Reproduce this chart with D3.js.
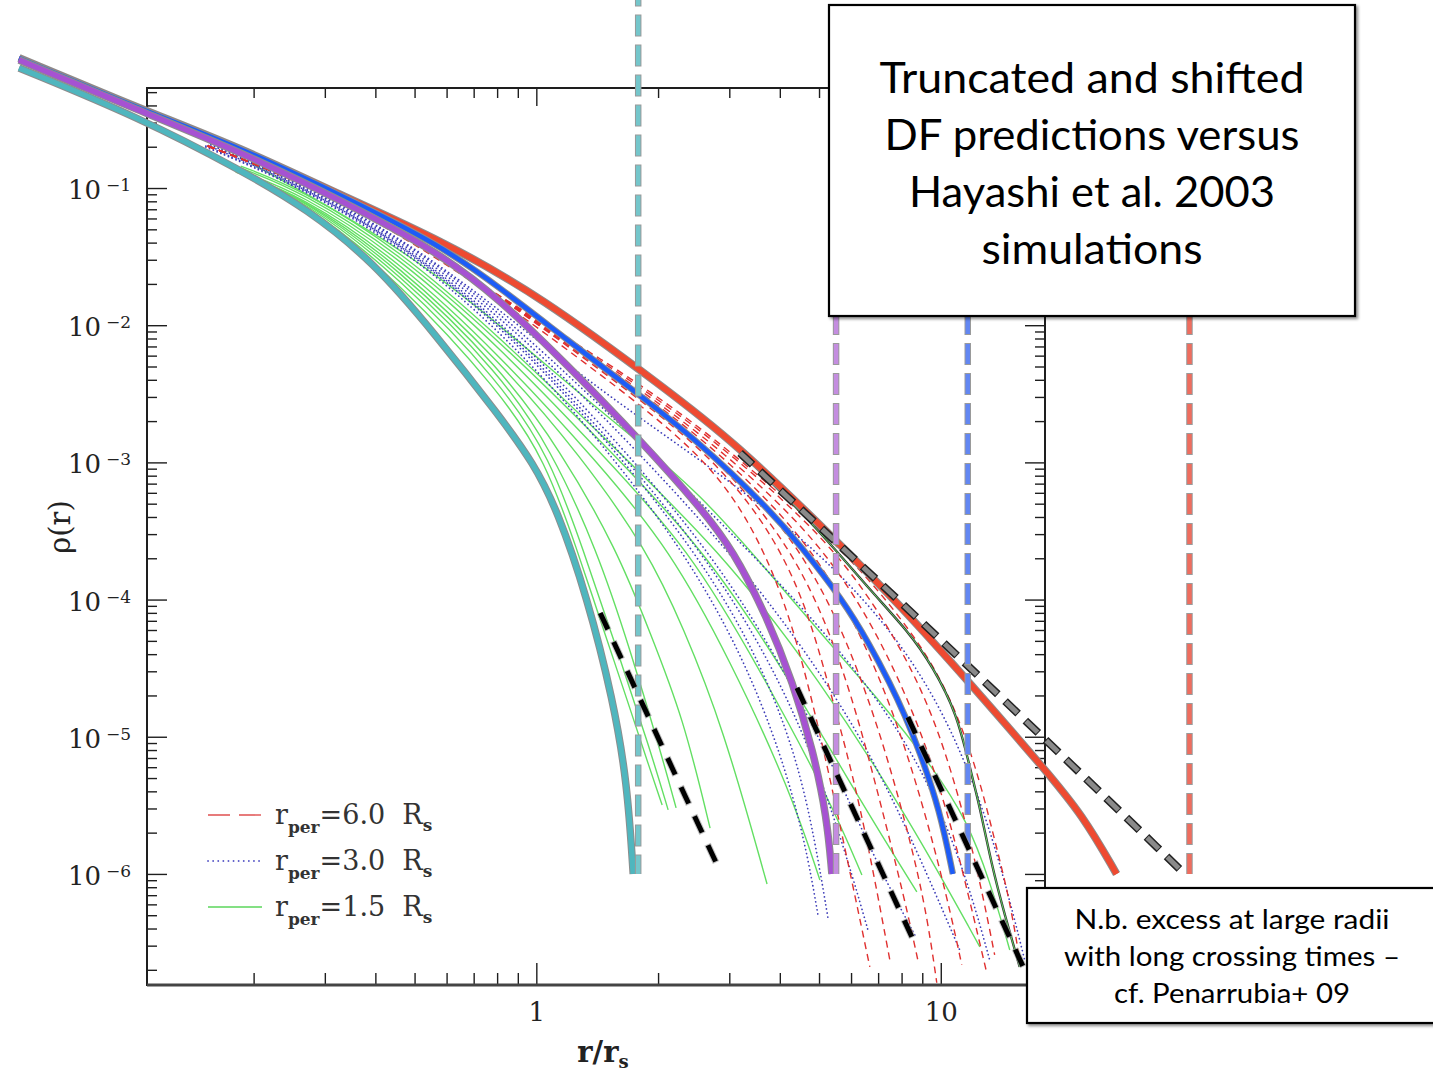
<!DOCTYPE html>
<html>
<head>
<meta charset="utf-8">
<script src="https://cdn.jsdelivr.net/npm/d3@7"></script>
<style>
  body { margin: 0; background: #fff; }
  svg { display: block; }
</style>
</head>
<body>
<svg id="chart" width="1433" height="1072"></svg>
<script>
// ---------- axis ranges ----------
const rRange = [0.109, 18.1];          // r / r_s shown inside the frame
const rhoRange = [1.55e-7, 0.536];     // rho(r) shown inside the frame
const xMajorTicks = [1, 10];
const xMinorTicks = [0.2, 0.3, 0.4, 0.5, 0.6, 0.7, 0.8, 0.9, 2, 3, 4, 5, 6, 7, 8, 9];
const yMajorTicks = [1e-1, 1e-2, 1e-3, 1e-4, 1e-5, 1e-6];
const yMajorExp = ["−1", "−2", "−3", "−4", "−5", "−6"];

// ---------- truncated & shifted DF predictions (r/r_s, rho) ----------
const dfCyan = [[0.0526,0.750],[0.105,0.324],[0.186,0.135],[0.272,0.0700],[0.396,0.0289],[0.557,0.00891],
  [0.815,0.00214],[0.983,9.9e-4],[1.127,4.5e-4],[1.336,1.04e-4],[1.549,1.85e-5],[1.678,4.6e-6],[1.736,1.0e-6]];
const dfPurple = [[0.0526,0.857],[0.105,0.364],[0.186,0.183],[0.328,0.0818],[0.579,0.0336],[0.815,0.01528],
  [1.193,0.00513],[1.806,0.001455],[2.541,4.73e-4],[3.065,2.30e-4],[3.719,7.46e-5],[4.312,2.47e-5],
  [4.83,8.0e-6],[5.23,2.60e-6],[5.38,1.0e-6]];
const dfBlue = [[0.0526,0.886],[0.105,0.377],[0.186,0.196],[0.328,0.0889],[0.579,0.0385],[0.815,0.01866],
  [1.193,0.0078],[1.736,0.00337],[2.541,0.001384],[3.719,4.73e-4],[4.486,2.50e-4],[5.73,9.93e-5],
  [6.677,4.67e-5],[7.482,2.47e-5],[8.15,1.44e-5],[8.875,7.75e-6],[9.943,2.93e-6],[10.71,1.0e-6]];
const dfRed = [[0.0526,0.886],[0.105,0.377],[0.186,0.196],[0.328,0.0889],[0.579,0.0418],[1.023,0.01633],
  [2.106,0.00337],[3.065,0.001432],[5.41,2.86e-4],[7.92,9.14e-5],[11.79,2.47e-5],[17.86,6.03e-6],
  [22.42,2.69e-6],[27.2,1.0e-6]];
// untruncated reference profile
const nfwRef = [[3.19,1.17e-3],[3.719,7.69e-4],[7.92,9.77e-5],[17.86,1.0e-5],[38.9,1.09e-6]];
// truncation radii of the four predictions and the density where each marker starts
const truncRadii = [1.786, 5.51, 11.66, 41.2];
const truncTop = [3.0, 0.02, 0.02, 0.02];
const truncBottom = 1.0e-6;
const truncColors = ["#74c6cb", "#c48de0", "#6287f2", "#ef6d5e"];
// power-law tails
const tailSlopes = [
  [[1.439,7.98e-5],[2.82,1.11e-6]],
  [[4.41,2.27e-5],[8.62,3.14e-7]],
  [[8.29,1.39e-5],[16.03,2.07e-7]]
];

// ---------- N-body profiles (Hayashi et al. 2003) ----------
const simRper15 = [
  [[0.1967,0.1163],[0.2615,0.0804],[0.4614,0.0203],[0.815,0.00326],[1.052,0.00104],[1.262,2.30e-4],[1.439,7.10e-5],[1.678,1.85e-5],[1.912,5.73e-6],[2.047,3.18e-6]],
  [[0.1967,0.1183],[0.2615,0.0818],[0.4614,0.0221],[0.815,0.00385],[1.083,0.00108],[1.306,2.30e-4],[1.585,4.29e-5],[1.912,8.01e-6],[2.118,2.93e-6]],
  [[0.1912,0.1223],[0.2615,0.0846],[0.4614,0.0236],[0.815,0.00441],[1.083,0.00127],[1.414,2.30e-4],[1.707,4.29e-5],[2.024,8.01e-6],[2.216,3.03e-6]],
  [[0.1912,0.1244],[0.2615,0.0860],[0.4614,0.0253],[0.815,0.00488],[1.146,0.00123],[1.585,2.30e-4],[1.912,5.71e-5],[2.307,1.39e-5],[2.689,2.16e-6]],
  [[0.1858,0.1265],[0.2615,0.0874],[0.4614,0.0270],[0.815,0.00539],[1.284,0.00113],[1.879,2.30e-4],[2.307,6.31e-5],[2.895,1.18e-5],[3.719,8.45e-7]],
  [[0.1806,0.1308],[0.2615,0.0889],[0.4614,0.0289],[0.815,0.00597],[1.439,9.57e-4],[2.142,2.30e-4],[3.013,3.63e-5],[4.240,4.09e-6],[5.025,9.04e-7]],
  [[0.1806,0.1353],[0.2615,0.0920],[0.4614,0.0309],[0.815,0.00682],[1.439,0.00119],[2.400,2.30e-4],[3.573,3.07e-5],[5.320,3.46e-6],[6.382,9.83e-7]],
  [[0.1858,0.1399],[0.2615,0.0951],[0.4614,0.0330],[0.815,0.00754],[1.439,0.00146],[2.614,2.30e-4],[4.240,2.59e-5],[6.310,3.46e-6],[8.726,7.39e-7]],
  [[0.1858,0.1446],[0.2615,0.0983],[0.4614,0.0353],[0.815,0.00807],[1.439,0.00161],[2.847,2.30e-4],[5.025,2.59e-5],[8.384,2.47e-6],[12.49,2.94e-7]],
  [[0.1967,0.1521],[0.4614,0.0378],[0.815,0.01003],[1.439,0.00233],[2.541,6.29e-4],[4.486,8.40e-5],[7.068,1.85e-5],[9.66,5.73e-6],[11.59,2.47e-6],[13.21,9.04e-7],[14.81,2.79e-7]]
];
// earliest snapshot, drawn with a dark edge
const simRper15Early = [[3.190,0.00119],[4.83,3.62e-4],[6.566,1.24e-4],[8.384,5.71e-5],[9.555,3.23e-5],
  [10.95,1.49e-5],[11.79,6.03e-6],[12.49,3.08e-6],[13.36,1.16e-6],[14.39,5.02e-7],[15.67,2.10e-7]];
const simRper30 = [
  [[0.1523,0.1990],[0.2615,0.1017],[0.4614,0.0378],[0.815,0.00923],[1.439,0.00146],[2.307,2.30e-4],[3.190,4.29e-5],[4.005,8.01e-6],[4.615,1.77e-6],[4.970,5.02e-7]],
  [[0.1523,0.2024],[0.2615,0.1034],[0.4614,0.0391],[0.815,0.01003],[1.439,0.00167],[2.470,2.30e-4],[3.473,4.29e-5],[4.362,8.01e-6],[4.886,1.77e-6],[5.260,4.78e-7]],
  [[0.1545,0.2040],[0.2615,0.1043],[0.4614,0.0397],[0.815,0.01047],[1.439,0.00178],[2.570,2.30e-4],[3.783,3.63e-5],[4.886,6.78e-6],[5.894,1.26e-6],[6.604,3.91e-7]],
  [[0.1567,0.2058],[0.2615,0.1052],[0.4614,0.0404],[0.815,0.01091],[1.439,0.00197],[2.689,2.30e-4],[4.120,3.07e-5],[5.632,4.84e-6],[7.068,1.07e-6],[8.627,3.59e-7]],
  [[0.1567,0.2093],[0.2615,0.1070],[0.4614,0.0418],[0.815,0.01167],[1.439,0.00233],[3.013,2.30e-4],[5.025,3.07e-5],[7.068,5.73e-6],[9.394,9.04e-7],[11.14,2.79e-7]],
  [[0.1612,0.2093],[0.2615,0.1088],[0.4614,0.0432],[0.815,0.01248],[1.439,0.00262],[3.376,2.30e-4],[5.962,3.63e-5],[8.875,6.78e-6],[11.46,1.07e-6],[13.21,2.36e-7]],
  [[0.1612,0.2093],[0.2615,0.1088],[0.4614,0.0440],[0.815,0.01300],[1.439,0.00326],[3.573,5.32e-4],[6.677,9.93e-5],[9.943,1.85e-5],[12.84,2.93e-6],[14.81,6.46e-7],[16.12,2.36e-7]]
];
const simRper60 = [
  [[0.1540,0.2024],[0.2615,0.1106],[0.4614,0.0462],[0.815,0.01527],[1.439,0.00441],[2.541,0.00119],[3.376,3.80e-4],[4.120,9.93e-5],[4.750,2.19e-5],[5.473,3.46e-6],[6.677,2.10e-7]],
  [[0.1540,0.2024],[0.2615,0.1124],[0.4614,0.0478],[0.815,0.01605],[1.439,0.00472],[2.541,0.00134],[3.676,3.80e-4],[4.615,9.93e-5],[5.320,2.19e-5],[6.310,3.46e-6],[7.482,2.36e-7]],
  [[0.1540,0.2024],[0.2615,0.1124],[0.4614,0.0478],[0.815,0.01605],[1.439,0.00488],[2.541,0.001408],[3.826,3.80e-4],[4.970,9.93e-5],[6.03,2.02e-5],[7.068,3.46e-6],[8.15,6.46e-7],[8.775,2.36e-7]],
  [[0.1540,0.2024],[0.2615,0.1124],[0.4614,0.0478],[0.815,0.01605],[1.439,0.00504],[2.541,0.00151],[4.005,3.80e-4],[5.320,9.93e-5],[6.677,1.85e-5],[7.920,3.46e-6],[9.13,6.46e-7],[9.774,1.61e-7]],
  [[0.1540,0.2024],[0.2615,0.1124],[0.4614,0.0478],[0.815,0.01605],[1.439,0.00521],[2.541,0.001584],[4.240,3.80e-4],[5.794,9.93e-5],[7.482,1.85e-5],[8.977,3.46e-6],[10.41,6.46e-7],[11.27,2.17e-7]],
  [[0.1540,0.2024],[0.2615,0.1124],[0.4614,0.0478],[0.815,0.01605],[1.439,0.00539],[2.541,0.00167],[4.486,3.80e-4],[6.310,9.93e-5],[8.384,1.85e-5],[10.23,3.46e-6],[11.79,6.46e-7],[12.99,1.90e-7]],
  [[0.1540,0.2024],[0.2615,0.1124],[0.4614,0.0478],[0.815,0.01605],[1.439,0.00558],[2.541,0.00178],[4.750,3.68e-4],[6.677,1.08e-4],[9.13,2.19e-5],[11.01,4.09e-6],[12.49,9.04e-7],[13.59,2.57e-7]],
  [[0.1540,0.2024],[0.2615,0.1124],[0.4614,0.0478],[0.815,0.01605],[1.439,0.00577],[2.541,0.00187],[5.025,3.33e-4],[7.068,1.17e-4],[9.943,3.07e-5],[12.13,6.78e-6],[13.59,1.77e-6],[14.81,6.46e-7],[15.67,2.36e-7]]
];

const legendLabels = ["6.0", "3.0", "1.5"];
const titleLines = ["Truncated and shifted", "DF predictions versus", "Hayashi et al. 2003", "simulations"];
const noteLines = ["N.b. excess at large radii", "with long crossing times –", "cf. Penarrubia+ 09"];

// ---------- layout ----------
const W = 1433, H = 1072;
const frame = { left: 147, right: 1045, top: 88, bottom: 985 };
const serif = "'DejaVu Serif', serif";

const svg = d3.select("#chart");
svg.append("rect").attr("width", W).attr("height", H).attr("fill", "#fff");

const x = d3.scaleLog().domain(rRange).range([frame.left, frame.right]);
const y = d3.scaleLog().domain(rhoRange).range([frame.bottom, frame.top]);
const line = d3.line().x(d => x(d[0])).y(d => y(d[1])).curve(d3.curveBasis);
const straight = d3.line().x(d => x(d[0])).y(d => y(d[1]));

const defs = svg.append("defs");
defs.append("clipPath").attr("id", "plotClip").append("rect")
  .attr("x", frame.left).attr("y", frame.top)
  .attr("width", frame.right - frame.left).attr("height", frame.bottom - frame.top);
const shadow = defs.append("filter").attr("id", "boxShadow")
  .attr("x", "-5%").attr("y", "-5%").attr("width", "115%").attr("height", "115%");
shadow.append("feDropShadow").attr("dx", 2).attr("dy", 2).attr("stdDeviation", 1.6)
  .attr("flood-color", "#000").attr("flood-opacity", 0.45);

// ---------- axes ----------
const axisColor = "#1e1e1e";
function yMinorTicks() {
  const out = [];
  for (let e = -7; e <= -1; e++) for (let m = 2; m <= 9; m++) {
    const v = m * Math.pow(10, e);
    if (v > rhoRange[0] && v < rhoRange[1]) out.push(v);
  }
  return out;
}
const yMinor = yMinorTicks();
const axes = svg.append("g").attr("color", axisColor);
function strip(g) { g.select(".domain").remove(); g.selectAll("line").attr("stroke-width", 1.4); }

axes.append("g").attr("transform", `translate(0,${frame.bottom})`)
  .call(d3.axisBottom(x).tickValues(xMinorTicks).tickSize(-12).tickFormat("")).call(strip);
axes.append("g").attr("transform", `translate(0,${frame.bottom})`)
  .call(d3.axisBottom(x).tickValues(xMajorTicks).tickSize(-22).tickPadding(18).tickFormat(d3.format("d")))
  .call(strip)
  .call(g => g.selectAll("text").attr("font-family", serif).attr("font-size", 26).attr("fill", "#222"));
axes.append("g").attr("transform", `translate(0,${frame.top})`)
  .call(d3.axisTop(x).tickValues(xMinorTicks).tickSize(-10).tickFormat("")).call(strip);
axes.append("g").attr("transform", `translate(0,${frame.top})`)
  .call(d3.axisTop(x).tickValues(xMajorTicks).tickSize(-18).tickFormat("")).call(strip);
axes.append("g").attr("transform", `translate(${frame.left},0)`)
  .call(d3.axisLeft(y).tickValues(yMinor).tickSize(-10).tickFormat("")).call(strip);
axes.append("g").attr("transform", `translate(${frame.left},0)`)
  .call(d3.axisLeft(y).tickValues(yMajorTicks).tickSize(-20).tickFormat("")).call(strip);
axes.append("g").attr("transform", `translate(${frame.right},0)`)
  .call(d3.axisRight(y).tickValues(yMinor).tickSize(-10).tickFormat("")).call(strip);
axes.append("g").attr("transform", `translate(${frame.right},0)`)
  .call(d3.axisRight(y).tickValues(yMajorTicks).tickSize(-20).tickFormat("")).call(strip);

svg.append("rect")
  .attr("x", frame.left).attr("y", frame.top)
  .attr("width", frame.right - frame.left).attr("height", frame.bottom - frame.top)
  .attr("fill", "none").attr("stroke", axisColor).attr("stroke-width", 2);
svg.append("line")
  .attr("x1", frame.left).attr("x2", frame.right)
  .attr("y1", frame.bottom).attr("y2", frame.bottom)
  .attr("stroke", "#444").attr("stroke-width", 3);

// y tick labels 10^n
const yLabels = svg.append("g").attr("font-family", serif).attr("fill", "#222");
yMajorTicks.forEach((v, i) => {
  const t = yLabels.append("text").attr("x", 68).attr("y", y(v) + 11).attr("font-size", 26);
  t.append("tspan").text("10");
  t.append("tspan").attr("dx", 5).attr("dy", -8).attr("font-size", 17).text(yMajorExp[i]);
});

// axis titles
const xt = svg.append("text").attr("x", 603).attr("y", 1062).attr("text-anchor", "middle")
  .attr("font-family", serif).attr("font-size", 29).attr("font-weight", "bold").attr("fill", "#222");
xt.append("tspan").text("r/r");
xt.append("tspan").attr("dy", 6).attr("font-size", 18).text("s");
svg.append("text").attr("transform", "translate(70,527) rotate(-90)").attr("text-anchor", "middle")
  .attr("font-family", serif).attr("font-size", 29).attr("fill", "#222").text("ρ(r)");

// ---------- simulation profiles ----------
const sims = svg.append("g").attr("clip-path", "url(#plotClip)").attr("fill", "none");
sims.selectAll("path.g15").data(simRper15).join("path").attr("class", "g15")
  .attr("d", line).attr("stroke", "#63df63").attr("stroke-width", 1.4);
sims.selectAll("path.d30").data(simRper30).join("path").attr("class", "d30")
  .attr("d", line).attr("stroke", "#3d3db8").attr("stroke-width", 1.7)
  .attr("stroke-dasharray", "0.1 4").attr("stroke-linecap", "round");
sims.selectAll("path.r60").data(simRper60).join("path").attr("class", "r60")
  .attr("d", line).attr("stroke", "#e0302f").attr("stroke-width", 1.4)
  .attr("stroke-dasharray", "7 5");
sims.append("path").attr("d", line(simRper15Early)).attr("stroke", "#333").attr("stroke-width", 2.4);
sims.append("path").attr("d", line(simRper15Early)).attr("stroke", "#5fd35f").attr("stroke-width", 1);

// ---------- DF predictions ----------
function thick(data, color, w) {
  svg.append("path").attr("d", line(data)).attr("fill", "none")
    .attr("stroke", "#8d8d8d").attr("stroke-width", w + 2);
  svg.append("path").attr("d", line(data)).attr("fill", "none")
    .attr("stroke", color).attr("stroke-width", w);
}
thick(dfRed, "#ee4a31", 6);
// reference profile, grey dashes with dark edge
svg.append("path").attr("d", line(nfwRef)).attr("fill", "none")
  .attr("stroke", "#222").attr("stroke-width", 8)
  .attr("stroke-dasharray", "18 10").attr("stroke-dashoffset", 1);
svg.append("path").attr("d", line(nfwRef)).attr("fill", "none")
  .attr("stroke", "#8a8a8a").attr("stroke-width", 5)
  .attr("stroke-dasharray", "16 12");
thick(dfBlue, "#1d5cf7", 4.5);
thick(dfPurple, "#a652d2", 5.5);
thick(dfCyan, "#4fb6be", 5.5);

// truncation radii
truncRadii.forEach((r, i) => {
  const d = straight([[r, truncTop[i]], [r, truncBottom]]);
  svg.append("path").attr("d", d).attr("stroke", "#9a9a9a").attr("stroke-width", 6.5)
    .attr("stroke-dasharray", "22 8").attr("stroke-dashoffset", 1);
  svg.append("path").attr("d", d).attr("stroke", truncColors[i]).attr("stroke-width", 4.5)
    .attr("stroke-dasharray", "20 10");
});

// power-law tails
tailSlopes.forEach(seg => {
  const d = straight(seg);
  svg.append("path").attr("d", d).attr("stroke", "#999").attr("stroke-width", 7)
    .attr("stroke-opacity", 0.6).attr("stroke-dasharray", "20 12").attr("stroke-dashoffset", 1);
  svg.append("path").attr("d", d).attr("stroke", "#000").attr("stroke-width", 5)
    .attr("stroke-dasharray", "18 14");
});

// ---------- legend ----------
const legend = svg.append("g");
const legendY = [815, 861, 907];
const legendStyles = [
  { stroke: "#e05050", dash: "22 9", w: 1.4, cap: "butt" },
  { stroke: "#5c5cc8", dash: "0.1 5", w: 1.8, cap: "round" },
  { stroke: "#5bd65b", dash: null, w: 1.6, cap: "butt" }
];
legendLabels.forEach((lab, i) => {
  const s = legendStyles[i];
  legend.append("line").attr("x1", 208).attr("x2", 262).attr("y1", legendY[i]).attr("y2", legendY[i])
    .attr("stroke", s.stroke).attr("stroke-width", s.w).attr("stroke-dasharray", s.dash)
    .attr("stroke-linecap", s.cap);
  const t = legend.append("text").attr("x", 275).attr("y", legendY[i] + 9)
    .attr("font-family", serif).attr("font-size", 27).attr("fill", "#333");
  t.append("tspan").text("r");
  t.append("tspan").attr("dy", 9).attr("font-size", 17).attr("font-weight", "bold").text("per");
  t.append("tspan").attr("dy", -9).text("=" + lab + "\u00a0\u00a0R");
  t.append("tspan").attr("dy", 7).attr("font-size", 17).attr("font-weight", "bold").text("s");
});

// ---------- annotation boxes ----------
const sans = "Lato, 'Open Sans', sans-serif";
function noteBox(bx, by, bw, bh, lines, cx, baseline0, step, size, widths) {
  svg.append("rect").attr("x", bx).attr("y", by).attr("width", bw).attr("height", bh)
    .attr("fill", "#fff").attr("stroke", "#000").attr("stroke-width", 2.2)
    .attr("filter", "url(#boxShadow)");
  lines.forEach((l, i) => {
    svg.append("text").attr("x", cx).attr("y", baseline0 + i * step).attr("text-anchor", "middle")
      .attr("font-family", sans).attr("font-size", size).attr("fill", "#000")
      .attr("textLength", widths[i]).attr("lengthAdjust", "spacingAndGlyphs").text(l);
  });
}
noteBox(829, 5, 526, 311, titleLines, 1092, 93, 57, 42, [425, 415, 366, 221]);
noteBox(1027, 888, 420, 135, noteLines, 1232, 929, 37, 27, [315, 336, 236]);
</script>
</body>
</html>
